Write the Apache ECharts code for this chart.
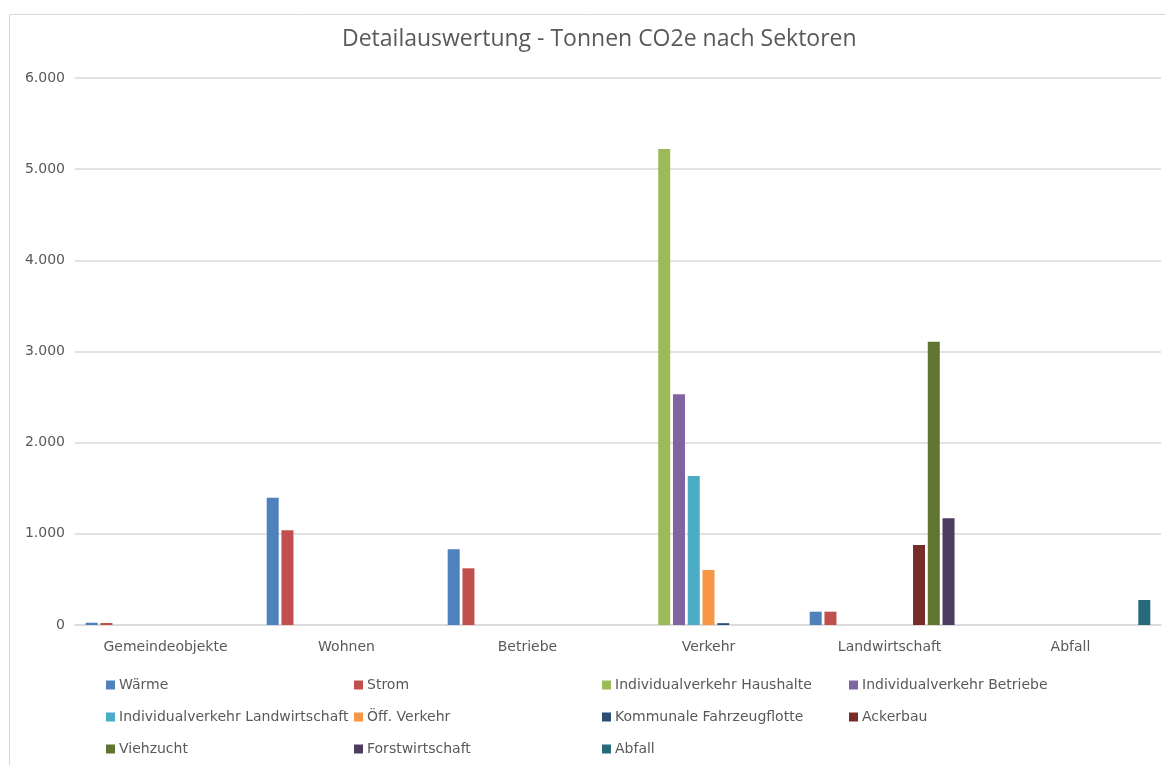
<!DOCTYPE html>
<html>
<head>
<meta charset="utf-8">
<title>Detailauswertung - Tonnen CO2e nach Sektoren</title>
<script src="https://cdn.jsdelivr.net/npm/echarts@6/dist/echarts.min.js"></script>
<style>
  html, body { margin: 0; padding: 0; background: #ffffff; }
  #chart { width: 1165px; height: 765px; }
</style>
</head>
<body>
<div id="chart"></div>
<script>
// Sektoren (x-Achse)
const categories = ['Gemeindeobjekte', 'Wohnen', 'Betriebe', 'Verkehr', 'Landwirtschaft', 'Abfall'];

// Tonnen CO2e je Quelle und Sektor (null = kein Wert)
const waerme              = [25, 1395, 830, null, 146, null];
const strom               = [22, 1040, 622, null, 146, null];
const ivHaushalte         = [null, null, null, 5221, null, null];
const ivBetriebe          = [null, null, null, 2530, null, null];
const ivLandwirtschaft    = [null, null, null, 1634, null, null];
const oeffVerkehr         = [null, null, null, 603, null, null];
const fahrzeugflotte      = [null, null, null, 20, null, null];
const ackerbau            = [null, null, null, null, 877, null];
const viehzucht           = [null, null, null, null, 3107, null];
const forstwirtschaft     = [null, null, null, null, 1170, null];
const abfall              = [null, null, null, null, null, 274];

// Achsenbeschriftung
const yTicks = [0, 1000, 2000, 3000, 4000, 5000, 6000];

const seriesDefs = [
  { name: 'Wärme', data: waerme, color: '#4F81BD' },
  { name: 'Strom', data: strom, color: '#C0504D' },
  { name: 'Individualverkehr Haushalte', data: ivHaushalte, color: '#9BBB59' },
  { name: 'Individualverkehr Betriebe', data: ivBetriebe, color: '#8064A2' },
  { name: 'Individualverkehr Landwirtschaft', data: ivLandwirtschaft, color: '#4BACC6' },
  { name: 'Öff. Verkehr', data: oeffVerkehr, color: '#F79646' },
  { name: 'Kommunale Fahrzeugflotte', data: fahrzeugflotte, color: '#2C4D75' },
  { name: 'Ackerbau', data: ackerbau, color: '#772C2A' },
  { name: 'Viehzucht', data: viehzucht, color: '#5F7530' },
  { name: 'Forstwirtschaft', data: forstwirtschaft, color: '#4D3B62' },
  { name: 'Abfall', data: abfall, color: '#276A7C' }
];

const textColor = '#595959';
const titleFont = '"Open Sans", "Noto Sans", sans-serif';
const labelFont = '"DejaVu Sans", "Noto Sans", sans-serif';

function formatDE(v) {
  return String(Math.round(v)).replace(/\B(?=(\d{3})+(?!\d))/g, '.');
}

// one legend block per entry, laid out in a 4-column grid
const legendCols = [106, 354, 602, 849];
const legendRows = [678, 710, 742];
const legends = seriesDefs.map((s, i) => ({
  data: [s.name],
  left: legendCols[i % 4],
  top: legendRows[Math.floor(i / 4)],
  orient: 'horizontal',
  padding: 0,
  itemWidth: 9,
  itemHeight: 9,
  itemGap: 0,
  icon: 'rect',
  textStyle: { color: textColor, fontSize: 14, fontFamily: labelFont, padding: [0, 0, 0, -1] },
  selectedMode: false
}));

const chart = echarts.init(document.getElementById('chart'), null, { renderer: 'canvas' });

chart.setOption({
  animation: false,
  backgroundColor: '#ffffff',
  title: {
    text: 'Detailauswertung - Tonnen CO2e nach Sektoren',
    left: 337,
    top: 23,
    textStyle: { color: textColor, fontSize: 23, fontWeight: 'normal', fontFamily: titleFont }
  },
  graphic: [{
    type: 'rect',
    shape: { x: 9.5, y: 14.5, width: 1170, height: 780 },
    style: { fill: 'none', stroke: '#D9D9D9', lineWidth: 1 },
    silent: true
  }],
  legend: legends,
  grid: { left: 75, right: 4, top: 78, bottom: 140, containLabel: false },
  xAxis: {
    type: 'category',
    data: categories,
    axisLine: { show: true, lineStyle: { color: '#D9D9D9', width: 1.5 } },
    axisTick: { show: false },
    axisLabel: { color: textColor, fontSize: 14, fontFamily: labelFont, margin: 15 }
  },
  yAxis: {
    type: 'value',
    min: yTicks[0],
    max: yTicks[yTicks.length - 1],
    interval: yTicks[1] - yTicks[0],
    axisLine: { show: false },
    axisTick: { show: false },
    splitLine: { lineStyle: { color: '#D9D9D9', width: 1.5 } },
    axisLabel: { color: textColor, fontSize: 14, fontFamily: labelFont, margin: 10, formatter: formatDE }
  },
  series: seriesDefs.map(s => ({
    name: s.name,
    type: 'bar',
    data: s.data,
    barWidth: 12,
    barGap: '23%',
    itemStyle: { color: s.color }
  }))
});
</script>
</body>
</html>
